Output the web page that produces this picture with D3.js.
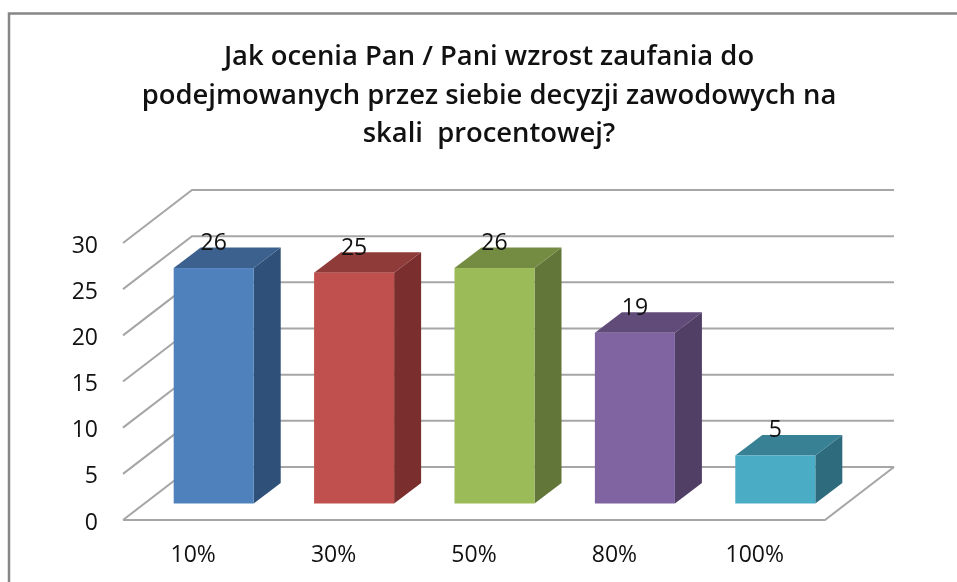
<!DOCTYPE html>
<html>
<head>
<meta charset="utf-8">
<script src="https://cdn.jsdelivr.net/npm/d3@7"></script>
<style>
html, body { margin: 0; background: #fff; overflow: hidden; }
svg { display: block; filter: blur(0.5px); }
text { font-family: "Open Sans", "Noto Sans", sans-serif; fill: #111; }
</style>
</head>
<body>
<script>
const width = 957;
const height = 582;

const titleLines = [
	"Jak ocenia Pan / Pani wzrost zaufania do",
	"podejmowanych przez siebie decyzji zawodowych na",
	"skali  procentowej?"
];
const categories = ["10%", "30%", "50%", "80%", "100%"];
// heights, the printed labels are the rounded ones
const values = [25.5, 25, 25.5, 18.5, 5.2];
const valueLabels = ["26", "25", "26", "19", "5"];
const yTicks = [0, 5, 10, 15, 20, 25, 30];
const frontColors = ["#4f81bd", "#c0504d", "#9bbb59", "#8064a2", "#4bacc6"];
const topColors = ["#3c618e", "#8f3b39", "#748c42", "#604b79", "#388094"];
const sideColors = ["#2f5078", "#7a2f2e", "#62763a", "#513f66", "#2e6b7d"];

// 3D box: offset of the back wall and of the bar depth
const wallDx = 69;
const wallDy = -53;
const barDx = 27;
const barDy = -20.5;
const barShiftX = 20.5;
const barShiftY = -16.5;

const x = d3.scaleBand()
	.domain(categories)
	.range([123, 825])
	.paddingInner(0.43)
	.paddingOuter(0.215);

const y = d3.scaleLinear()
	.domain([0, 30])
	.range([520, 243]);

const svg = d3.select("body")
	.append("svg")
	.attr("width", width)
	.attr("height", height);

// outer frame, runs off the right and bottom of the picture
svg.append("rect")
	.attr("x", 9)
	.attr("y", 13.5)
	.attr("width", 1000)
	.attr("height", 600)
	.attr("fill", "#fff")
	.attr("stroke", "#868686")
	.attr("stroke-width", 2.5);

// title
svg.append("text")
	.attr("text-anchor", "middle")
	.attr("font-weight", 600)
	.attr("font-size", 27.4)
	.selectAll("tspan")
	.data(titleLines)
	.enter()
	.append("tspan")
	.attr("x", 489)
	.attr("y", (d, i) => 65 + i * 38.5)
	.style("white-space", "pre")
	.text((d) => d);

// walls and gridlines
const grid = svg.append("g")
	.attr("fill", "none")
	.attr("stroke", "#a6a6a6")
	.attr("stroke-width", 2);

grid.selectAll("path.wall")
	.data(yTicks)
	.enter()
	.append("path")
	.attr("class", "wall")
	.attr("d", (d) => d3.line()([
		[123, y(d)],
		[123 + wallDx, y(d) + wallDy],
		[825 + wallDx, y(d) + wallDy]
	]));

grid.append("path")
	.attr("d", d3.line()([
		[123, y(0)],
		[825, y(0)],
		[825 + wallDx, y(0) + wallDy]
	]));

// y axis labels
svg.selectAll("text.tick")
	.data(yTicks)
	.enter()
	.append("text")
	.attr("class", "tick")
	.attr("x", 98)
	.attr("y", (d) => y(d) + 9.5)
	.attr("text-anchor", "end")
	.attr("font-size", 23)
	.text((d) => d);

// x axis labels
svg.selectAll("text.cat")
	.data(categories)
	.enter()
	.append("text")
	.attr("class", "cat")
	.attr("x", (d) => x(d) + x.bandwidth() / 2)
	.attr("y", 562)
	.attr("text-anchor", "middle")
	.attr("font-size", 23)
	.text((d) => d);

// bars
const bars = svg.selectAll("g.bar")
	.data(categories)
	.enter()
	.append("g")
	.attr("class", "bar")
	.attr("transform", `translate(${barShiftX},${barShiftY})`);

const left = (d) => x(d);
const right = (d) => x(d) + x.bandwidth();
const top3d = (d, i) => y(values[i]);

bars.append("path")
	.attr("fill", (d, i) => sideColors[i])
	.attr("d", (d, i) => d3.line()([
		[right(d), y(0)],
		[right(d), top3d(d, i)],
		[right(d) + barDx, top3d(d, i) + barDy],
		[right(d) + barDx, y(0) + barDy]
	]) + "Z");

bars.append("path")
	.attr("fill", (d, i) => topColors[i])
	.attr("d", (d, i) => d3.line()([
		[left(d), top3d(d, i)],
		[right(d), top3d(d, i)],
		[right(d) + barDx, top3d(d, i) + barDy],
		[left(d) + barDx, top3d(d, i) + barDy]
	]) + "Z");

bars.append("rect")
	.attr("x", (d) => left(d))
	.attr("y", (d, i) => top3d(d, i))
	.attr("width", x.bandwidth())
	.attr("height", (d, i) => y(0) - top3d(d, i))
	.attr("fill", (d, i) => frontColors[i]);

// value labels
bars.append("text")
	.attr("x", (d) => x(d) + x.bandwidth() / 2)
	.attr("y", (d, i) => top3d(d, i) + barDy + 2.5)
	.attr("text-anchor", "middle")
	.attr("font-size", 23)
	.text((d, i) => valueLabels[i]);
</script>
</body>
</html>
